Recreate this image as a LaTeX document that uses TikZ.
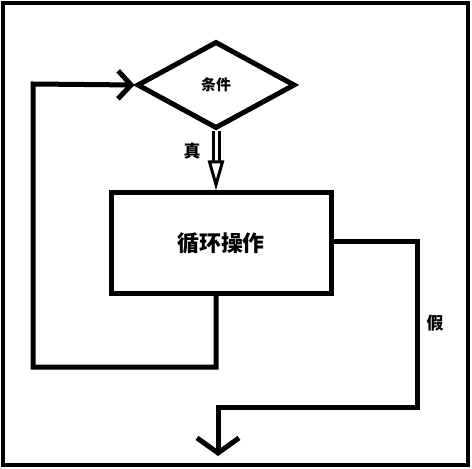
\documentclass[tikz,border=0pt]{standalone}
\usepackage{fontspec}
\newfontfamily\cjk{Noto Sans CJK SC}
\usetikzlibrary{shapes.geometric,arrows.meta}

\begin{document}
\begin{tikzpicture}[
        x=1bp, y=-1bp,
        line width=5bp,
        cond/.style={draw, diamond, shape aspect=1.8, minimum width=158bp, minimum height=87bp, inner sep=0pt, font=\cjk\bfseries\fontsize{15}{15}\selectfont},
        box/.style={draw, rectangle, minimum width=220bp, minimum height=100bp, inner sep=0pt, font=\cjk\bfseries\fontsize{22}{22}\selectfont},
        note/.style={font=\cjk\bfseries\fontsize{17}{17}\selectfont},
        barb/.style={-{Straight Barb[length=13bp,width=28bp]}}
    ]

    \useasboundingbox (0,0) rectangle (472,469);
    \draw[line width=4.5bp] (3,3) rectangle (468,465);

    \node[cond] (test) at (216,85) {条件};
    \node[box] (body) at (221,243) {循环操作};

    % true branch
    \draw[double, line width=3bp, double distance=3bp, -{Triangle[open, length=30bp, width=16bp]}] (test.south) -- (test |- body.north);
    \node[note] (yes) at (192,151) {真};

    % back to the condition
    \coordinate (lowLeft) at (216,367);
    \coordinate (farLeft) at (33,367);
    \coordinate (topLeft) at (33,84);
    \draw[barb] (test |- body.south) -- (lowLeft) -- (farLeft) -- (topLeft) -- (test.west);

    % false branch
    \coordinate (rightTop) at (417,241);
    \coordinate (rightLow) at (417,407);
    \coordinate (outTop) at (218,407);
    \coordinate (outEnd) at (218,456);
    \draw[-{Straight Barb[length=15bp,width=42bp]}] (body.east |- rightTop) -- (rightTop) -- (rightLow) -- (outTop) -- (outEnd);
    \node[note] (no) at (435,323) {假};

\end{tikzpicture}
\end{document}
